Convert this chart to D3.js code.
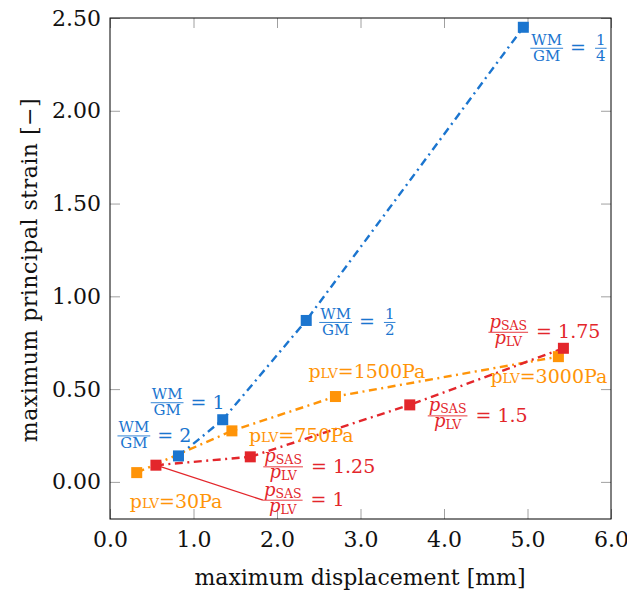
<!DOCTYPE html>
<html>
<head>
<meta charset="utf-8">
<script src="https://cdn.jsdelivr.net/npm/d3@7"></script>
<style>
  html, body { margin: 0; padding: 0; background: #fff; }
  svg { display: block; }
</style>
</head>
<body>
<svg id="chart" width="627" height="592"></svg>
<script>
// Maximum displacement [mm] vs. maximum principal strain [-] for three parameter studies
const dispWM = [0.82, 1.35, 2.35, 4.95];
const strainWM = [0.14, 0.335, 0.87, 2.45];
const ratioWM = [["2"], ["1"], ["1", "2"], ["1", "4"]];

const dispPLV = [0.32, 1.46, 2.70, 5.37];
const strainPLV = [0.05, 0.275, 0.46, 0.675];
const pressurePLV = ["30Pa", "750Pa", "1500Pa", "3000Pa"];

const dispSAS = [0.55, 1.68, 3.59, 5.43];
const strainSAS = [0.09, 0.135, 0.415, 0.72];
const ratioSAS = ["1", "1.25", "1.5", "1.75"];

const xTicks = [0, 1, 2, 3, 4, 5, 6];
const yTicks = [0, 0.5, 1, 1.5, 2, 2.5];

const BLUE = "#1b75cf", ORANGE = "#ff9408", RED = "#e3262b";
const FONT = "'DejaVu Serif', serif";

const svg = d3.select("#chart");
const x = d3.scaleLinear().domain([0, 6]).range([110, 611]);
const y = d3.scaleLinear().domain([-0.2, 2.5]).range([519, 18]);

// ---- axes: inward gray ticks on all four sides ----
function styleAxis(g) {
  g.select(".domain").remove();
  g.selectAll(".tick line").attr("stroke", "#a0a0a0").attr("stroke-width", 1);
  g.selectAll(".tick text").attr("font-family", FONT).attr("font-size", 22).attr("fill", "#111");
}
svg.append("g").attr("transform", "translate(0,519)")
  .call(d3.axisBottom(x).tickValues(xTicks).tickFormat(d3.format(".1f")).tickSize(-10).tickPadding(12))
  .call(styleAxis);
svg.append("g").attr("transform", "translate(0,18)")
  .call(d3.axisTop(x).tickValues(xTicks).tickFormat("").tickSize(-10))
  .call(styleAxis);
svg.append("g").attr("transform", "translate(110,0)")
  .call(d3.axisLeft(y).tickValues(yTicks).tickFormat(d3.format(".2f")).tickSize(-10).tickPadding(9))
  .call(styleAxis);
svg.append("g").attr("transform", "translate(611,0)")
  .call(d3.axisRight(y).tickValues(yTicks).tickFormat("").tickSize(-10))
  .call(styleAxis);

svg.append("rect").attr("x", 110).attr("y", 18).attr("width", 501).attr("height", 501)
  .attr("fill", "none").attr("stroke", "#000").attr("stroke-width", 1);

svg.append("text").attr("x", 360).attr("y", 585).attr("text-anchor", "middle")
  .attr("font-family", FONT).attr("font-size", 22).attr("fill", "#111")
  .text("maximum displacement [mm]");
svg.append("text").attr("transform", "translate(37,270) rotate(-90)").attr("text-anchor", "middle")
  .attr("font-family", FONT).attr("font-size", 22).attr("letter-spacing", 0.5).attr("fill", "#111")
  .text("maximum principal strain [\u2212]");

// ---- series lines ----
const series = [
  { xs: dispWM, ys: strainWM, color: BLUE },
  { xs: dispPLV, ys: strainPLV, color: ORANGE },
  { xs: dispSAS, ys: strainSAS, color: RED }
];
const line = d3.line().x(d => x(d[0])).y(d => y(d[1]));
const plot = svg.append("g");
series.forEach(s => {
  plot.append("path")
    .attr("d", line(s.xs.map((v, i) => [v, s.ys[i]])))
    .attr("fill", "none").attr("stroke", s.color).attr("stroke-width", 2.4)
    .attr("stroke-dasharray", "8,4.5,2,4.5");
});

// pin from the first SAS point to its label
const pinOff = [107, 35];
plot.append("line")
  .attr("x1", x(dispSAS[0])).attr("y1", y(strainSAS[0]))
  .attr("x2", x(dispSAS[0]) + pinOff[0]).attr("y2", y(strainSAS[0]) + pinOff[1])
  .attr("stroke", RED).attr("stroke-width", 1.3);

// markers drawn on top of all lines
series.forEach(s => {
  plot.selectAll(null).data(s.xs.map((v, i) => [v, s.ys[i]])).enter()
    .append("rect")
    .attr("x", d => x(d[0]) - 5.5).attr("y", d => y(d[1]) - 5.5)
    .attr("width", 11).attr("height", 11).attr("fill", s.color);
});

// ---- math-like labels ----
// parts: [text, size, italic, baseline]
function addParts(textSel, parts) {
  parts.forEach(p => {
    textSel.append("tspan").attr("font-size", p[1])
      .attr("font-style", p[2] ? "italic" : "normal").attr("y", p[3]).text(p[0]);
  });
}
// items laid out left to right; y = 0 is the fraction bar / math axis
function mathLabel(left, axisY, items, color) {
  const g = svg.append("g").attr("transform", `translate(${left},${axisY})`)
    .attr("font-family", FONT).attr("fill", color);
  let cx = 0;
  items.forEach(it => {
    if (it.frac) {
      const nt = g.append("text"); addParts(nt, it.num);
      const dt = g.append("text"); addParts(dt, it.den);
      const wn = nt.node().getComputedTextLength();
      const wd = dt.node().getComputedTextLength();
      const w = Math.max(wn, wd) + 2;
      nt.attr("x", cx + (w - wn) / 2);
      dt.attr("x", cx + (w - wd) / 2);
      g.append("line").attr("x1", cx).attr("x2", cx + w).attr("y1", 0).attr("y2", 0)
        .attr("stroke", color).attr("stroke-width", 0.9);
      cx += w + (it.gap || 0);
    } else {
      const t = g.append("text").attr("x", cx); addParts(t, it.parts);
      cx += t.node().getComputedTextLength() + (it.gap || 0);
    }
  });
}

const wmFrac = { frac: true, num: [["WM", 15, false, -3.5]], den: [["GM", 15, false, 12.5]], gap: 7 };
const wmOff = [[-61, -20], [-72, -17], [13, 2], [7, 21]];
ratioWM.forEach((r, i) => {
  const px = x(dispWM[i]) + wmOff[i][0], py = y(strainWM[i]) + wmOff[i][1];
  const rhs = r.length === 1
    ? [{ parts: [["= " + r[0], 19, false, 6]] }]
    : [{ parts: [["=", 19, false, 6]], gap: 9 },
       { frac: true, num: [[r[0], 15, false, -3.5]], den: [[r[1], 15, false, 12.5]] }];
  mathLabel(px, py, [wmFrac].concat(rhs), BLUE);
});

const plvOff = [[-7, 30], [17, 6], [-27, -24], [-68, 21]];
pressurePLV.forEach((v, i) => {
  const px = x(dispPLV[i]) + plvOff[i][0], py = y(strainPLV[i]) + plvOff[i][1];
  mathLabel(px, py, [{ parts: [["p", 19, false, 5], ["LV", 13.5, false, 5], ["=" + v, 19, false, 5]] }], ORANGE);
});

const sasOff = [pinOff, [13, 10], [18, 11], [-75, -16]];
ratioSAS.forEach((v, i) => {
  const px = x(dispSAS[i]) + sasOff[i][0], py = y(strainSAS[i]) + sasOff[i][1];
  mathLabel(px, py, [
    { frac: true, num: [["p", 18, true, -4.5], ["SAS", 12.5, false, -2.5]],
      den: [["p", 18, true, 11.5], ["LV", 12.5, false, 13.5]], gap: 8 },
    { parts: [["= " + v, 19, false, 6]] }
  ], RED);
});
</script>
</body>
</html>
